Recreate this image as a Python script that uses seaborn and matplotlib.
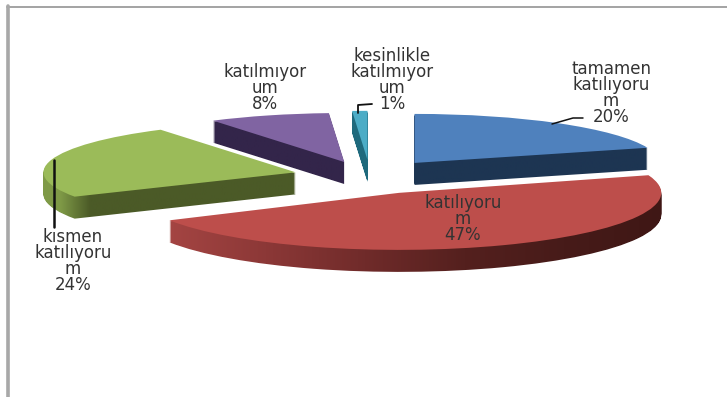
import matplotlib
matplotlib.use("Agg")
import matplotlib.pyplot as plt
import numpy as np
import seaborn as sns
from matplotlib.colors import LinearSegmentedColormap
from matplotlib.lines import Line2D
from matplotlib.path import Path
from matplotlib.transforms import Affine2D

# Data
categories = ["tamamen\nkatılıyoru\nm", "katılıyoru\nm", "kısmen\nkatılıyoru\nm",
              "katılmıyor\num", "kesinlikle\nkatılmıyor\num"]
percentages = [20, 47, 24, 8, 1]

# Style
top_colors = ["#4f81bd", "#bd4e4b", "#9bbb59", "#8064a2", "#4bacc6"]
side_ramps = [["#1d3552", "#1d3552"],
              ["#a54543", "#8c3837", "#702b2a", "#54201e", "#471b19", "#3f1715"],
              ["#7f9a47", "#7f9a47", "#4b5a27", "#4b5a27", "#4b5a27", "#4b5a27", "#4b5a27", "#4b5a27", "#4b5a27", "#4b5a27"],
              ["#33254a", "#33254a"],
              ["#1f6a7d", "#1f6a7d"]]
side_spans = [(400, 660), (165, 665), (30, 300), (200, 350), (340, 375)]
explosions = [0.33, 0.33, 0.30, 0.30, 0.33]
radii = [1.0, 1.07, 1.03, 1.0, 1.0]
y_stretch = [1.0, 1.088, 1.0, 1.0, 1.0]
nudges_px = [(0, 0), (0, -2), (0, 0), (0, 0), (3, 0)]
W, H = 727, 397
CX, CY, RX, RY = 367, 176, 245, 49
DEPTH = 22

sns.set_theme(style="white")
plt.rcParams["font.family"] = ["DejaVu Sans"]
fig = plt.figure(figsize=(W / 100, H / 100), dpi=100, facecolor="white")
ax = fig.add_axes([0, 0, 1, 1])
to_px = Affine2D().scale(1 / W, -1 / H).translate(0, 1) + fig.transFigure


def pie_at(offset):
    wedges, _ = ax.pie(percentages, explode=explosions,
                       startangle=90, counterclock=False, colors=top_colors,
                       center=(0, offset), wedgeprops=dict(linewidth=0))
    stretches = []
    for p, r, s, (nx, ny) in zip(wedges, radii, y_stretch, nudges_px):
        p.set_radius(r)
        cx, cy = p.center[0] + nx / RX, p.center[1] + ny / RY
        p.set_center((cx, cy))
        stretches.append(Affine2D().translate(-cx, -cy).scale(1, s).translate(cx, cy))
    return wedges, stretches


# side walls: the union of the slice swept downward, filled with a ramp
layers = []
for d in range(1, DEPTH + 1):
    w, st = pie_at(-d / RY)
    layers.append([p.get_path().transformed(a) for p, a in zip(w, st)])
    for p in w:
        p.remove()

order = [4, 3, 0, 2, 1]
ymin = (CY - H) / RY
ymax = CY / RY
for i in order:
    compound = Path.make_compound_path(*[lay[i] for lay in layers])
    x0, x1 = [(s - CX) / RX for s in side_spans[i]]
    cmap = LinearSegmentedColormap.from_list(f"side{i}", side_ramps[i], N=256)
    im = ax.imshow(np.linspace(0, 1, 256)[None, :], cmap=cmap, aspect="auto",
                   extent=(x0, x1, ymin, ymax), zorder=1 + order.index(i) * 2,
                   interpolation="bilinear")
    im.set_clip_path(compound, transform=ax.transData)

tops, stretches = pie_at(0)
for i, (p, a) in enumerate(zip(tops, stretches)):
    p.set_zorder(2 + order.index(i) * 2)
    p.set_transform(a + ax.transData)

ax.set_aspect("auto")
ax.set_xlim(-CX / RX, (W - CX) / RX)
ax.set_ylim((CY - H) / RY, CY / RY)

# Labels
label_centers = [(611, 93), (463, 219), (73, 261), (265, 88), (392, 80)]
for name, pct, (x, y) in zip(categories, percentages, label_centers):
    fig.text(x, y, f"{name}\n{pct}%", transform=to_px, ha="center", va="center",
             fontsize=12, color="#333333", linespacing=0.87, zorder=30)

# Leader lines
leaders = [([552, 573, 583], [124, 118, 118], 1.1),
           ([54, 54], [160, 227], 1.8),
           ([358, 358, 372], [113, 105, 104], 1.3)]
for xs, ys, lw in leaders:
    fig.add_artist(Line2D(xs, ys, transform=to_px, color="#111111", lw=lw, zorder=25))

# Page border
fig.add_artist(Line2D([7, W], [6.5, 6.5], transform=to_px, color="#9c9c9c", lw=1.3))
fig.add_artist(Line2D([8, 8], [6, H], transform=to_px, color="#a8a8a8", lw=2.6))

fig.savefig("out.png", dpi=100, facecolor="white")
